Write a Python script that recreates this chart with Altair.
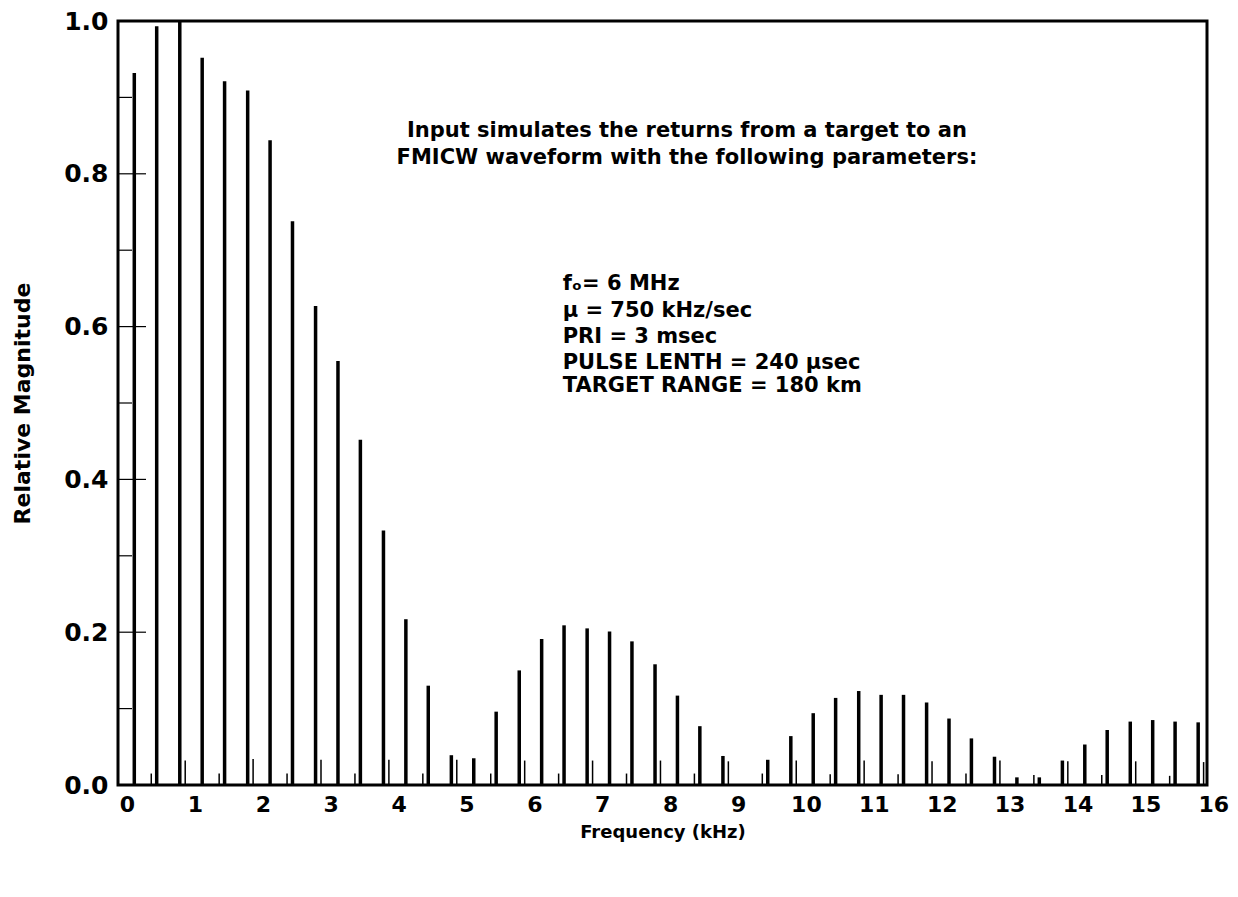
import altair as alt
import pandas as pd

# Main spectral lines (kHz, relative magnitude)
main_freq = [0.10, 0.43, 0.77, 1.10, 1.43, 1.77, 2.10, 2.43, 2.77, 3.10, 3.43, 3.77,
             4.10, 4.43, 4.77, 5.10, 5.43, 5.77, 6.10, 6.43, 6.77, 7.10, 7.43, 7.77,
             8.10, 8.43, 8.77, 9.10, 9.43, 9.77, 10.10, 10.43, 10.77, 11.10, 11.43, 11.77,
             12.10, 12.43, 12.77, 13.10, 13.43, 13.77, 14.10, 14.43, 14.77, 15.10, 15.43, 15.77]
main_mag = [0.932, 0.993, 1.000, 0.952, 0.921, 0.909, 0.844, 0.738, 0.627, 0.555, 0.452, 0.333,
            0.217, 0.130, 0.039, 0.035, 0.096, 0.150, 0.191, 0.209, 0.205, 0.201, 0.188, 0.158,
            0.117, 0.077, 0.038, 0.000, 0.033, 0.064, 0.094, 0.114, 0.123, 0.118, 0.118, 0.108,
            0.087, 0.061, 0.037, 0.010, 0.010, 0.032, 0.053, 0.072, 0.083, 0.085, 0.083, 0.082]

# Small secondary lines
minor_freq = [0.35, 0.85, 1.35, 1.85, 2.35, 2.85, 3.35, 3.85, 4.35, 4.85, 5.35, 5.85,
              6.35, 6.85, 7.35, 7.85, 8.35, 8.85, 9.35, 9.85, 10.35, 10.85, 11.35, 11.85,
              12.35, 12.85, 13.35, 13.85, 14.35, 14.85, 15.35, 15.85]
minor_mag = [0.015, 0.032, 0.015, 0.034, 0.015, 0.033, 0.015, 0.033, 0.015, 0.033, 0.015, 0.032,
             0.015, 0.032, 0.015, 0.032, 0.015, 0.031, 0.015, 0.032, 0.014, 0.032, 0.014, 0.031,
             0.015, 0.032, 0.013, 0.031, 0.013, 0.031, 0.012, 0.030]

x_ticks = list(range(0, 17))
y_major = [0.0, 0.2, 0.4, 0.6, 0.8, 1.0]
y_minor = [0.1, 0.3, 0.5, 0.7, 0.9]

title_lines = ["Input simulates the returns from a target to an",
               "FMICW waveform with the following parameters:"]
title_y = [0.856, 0.821]
param_lines = ["fₒ= 6 MHz", "μ = 750 kHz/sec", "PRI = 3 msec",
               "PULSE LENTH = 240 μsec", "TARGET RANGE = 180 km"]
param_y = [0.656, 0.620, 0.586, 0.553, 0.522]

FONT = "DejaVu Sans"
XDOM = [-0.14, 15.9]

xs = alt.Scale(domain=XDOM, nice=False, zero=False)
ys = alt.Scale(domain=[0, 1.0], nice=False)

main_df = pd.DataFrame({"f": main_freq, "m": main_mag})
minor_df = pd.DataFrame({"f": minor_freq, "m": minor_mag})

main = alt.Chart(main_df).mark_rule(color="black", strokeWidth=3.5).encode(
    x=alt.X("f:Q", scale=xs,
            axis=alt.Axis(labels=False, ticks=False, domain=False, grid=False,
                          title="Frequency (kHz)", titleFont=FONT, titleFontSize=18,
                          titleFontWeight="bold", titleColor="black",
                          titleY=47, titleBaseline="middle")),
    y=alt.Y("m:Q", scale=ys,
            axis=alt.Axis(values=y_major, format=".1f", labelFont=FONT, labelFontSize=25,
                          labelFontWeight="bold", labelColor="black", labelPadding=10,
                          ticks=False, domain=False, grid=False,
                          title="Relative Magnitude", titleFont=FONT, titleFontSize=22,
                          titleFontWeight="bold", titleColor="black",
                          titleX=-96, titleY=382, titleAngle=-90,
                          titleBaseline="middle", titleAlign="center")),
    y2=alt.datum(0),
)

minor = alt.Chart(minor_df).mark_rule(color="black", strokeWidth=1.5).encode(
    x=alt.X("f:Q", scale=xs), y=alt.Y("m:Q", scale=ys), y2=alt.datum(0))

maj_ticks = alt.Chart(pd.DataFrame({"v": y_major})).mark_rule(color="black", strokeWidth=1.2).encode(
    y=alt.Y("v:Q", scale=ys), x=alt.value(0), x2=alt.value(28))
min_ticks = alt.Chart(pd.DataFrame({"v": y_minor})).mark_rule(color="black", strokeWidth=1.2).encode(
    y=alt.Y("v:Q", scale=ys), x=alt.value(0), x2=alt.value(14))

xlab = alt.Chart(pd.DataFrame({"t": x_ticks})).mark_text(
    font=FONT, fontSize=22, fontWeight="bold", color="black", baseline="middle", align="center"
).encode(x=alt.X("t:Q", scale=xs), y=alt.value(784), text=alt.Text("t:Q"))

title_df = pd.DataFrame({"t": title_lines, "y": title_y, "x": [8.24, 8.24]})
ann1 = alt.Chart(title_df).mark_text(
    font=FONT, fontSize=21, fontWeight="bold", color="black", baseline="middle", align="center"
).encode(x=alt.X("x:Q", scale=xs), y=alt.Y("y:Q", scale=ys), text="t:N")

param_df = pd.DataFrame({"t": param_lines, "y": param_y, "x": [6.41] * len(param_lines)})
ann2 = alt.Chart(param_df).mark_text(
    font=FONT, fontSize=21, fontWeight="bold", color="black", baseline="middle", align="left"
).encode(x=alt.X("x:Q", scale=xs), y=alt.Y("y:Q", scale=ys), text="t:N")

chart = alt.layer(minor, main, maj_ticks, min_ticks, xlab, ann1, ann2).properties(
    width=1089, height=764,
    autosize=alt.AutoSizeParams(type="none"),
    padding={"left": 110, "top": 13, "right": 23, "bottom": 80},
).configure_view(stroke="black", strokeWidth=3)

chart.save("out.html", embed_options={"renderer": "svg", "actions": False})
